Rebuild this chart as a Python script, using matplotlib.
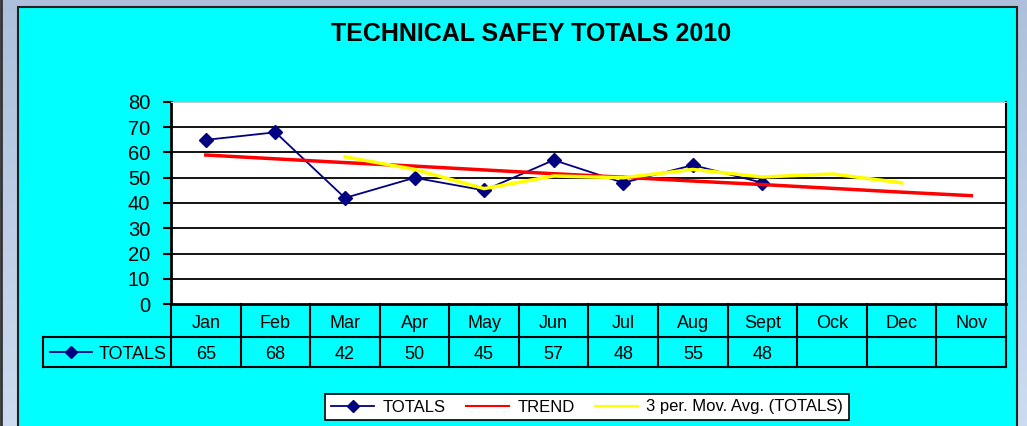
import numpy as np
import matplotlib
matplotlib.use('Agg')
import matplotlib.pyplot as plt
from matplotlib.patches import Rectangle
from matplotlib.lines import Line2D

plt.rcParams['font.family'] = ['Liberation Sans', 'DejaVu Sans']

months = ['Jan', 'Feb', 'Mar', 'Apr', 'May', 'Jun', 'Jul', 'Aug', 'Sept', 'Ock', 'Dec', 'Nov']
totals = [65, 68, 42, 50, 45, 57, 48, 55, 48]
trend = [59.0, 57.5, 56.0, 54.6, 53.1, 51.6, 50.2, 48.7, 47.3, 45.8, 44.3, 42.9]
moving_avg = [58.3, 53.3, 45.7, 50.7, 50.0, 53.3, 50.3, 51.5, 48.0]  # Mar .. Dec
moving_avg_start = 2
y_ticks = [0, 10, 20, 30, 40, 50, 60, 70, 80]

W, H = 1027, 426
fig = plt.figure(figsize=(W / 100, H / 100), dpi=100)

# backdrop: sky picture behind the cyan chart panel
bg = fig.add_axes([0, 0, 1, 1], zorder=-5)
bg.set_xlim(0, W)
bg.set_ylim(H, 0)
bg.axis('off')
rows = np.linspace(0, 1, 64)[:, None]
top = np.array([0.68, 0.75, 0.86])
bot = np.array([0.80, 0.86, 0.94])
sky = top * (1 - rows[..., None]) + bot * rows[..., None]
sky = np.repeat(sky, 4, axis=1)
bg.imshow(sky, extent=(0, W, H, 0), aspect='auto', zorder=0)
bg.add_line(Line2D([1, 1], [0, H], color='#333333', lw=2, zorder=1))
bg.add_patch(Rectangle((18, 7), 999, 430, facecolor='#00FFFF',
                       edgecolor='#222222', lw=1.5, zorder=2))

fig.text(531 / W, 1 - 34 / H, 'TECHNICAL SAFEY TOTALS 2010', ha='center',
         va='center', fontsize=18, fontweight='bold')

# plot area
ax = fig.add_axes([171 / W, 1 - 304 / H, 835 / W, 202 / H])
ax.set_facecolor('white')
ax.set_xlim(0, len(months))
ax.set_ylim(0, 80)
ax.set_yticks(y_ticks)
ax.set_xticks([])
ax.tick_params(axis='y', length=6, width=1.5, pad=9, labelsize=14.5)
for y in y_ticks[1:-1]:
    ax.axhline(y, color='black', lw=1.3, zorder=1)
ax.spines['left'].set_linewidth(2)
ax.spines['bottom'].set_linewidth(2)
ax.spines['right'].set_linewidth(1.5)
ax.spines['top'].set_color('#c8c8c8')

xs = np.arange(len(months)) + 0.5
ax.plot(xs[:len(totals)], totals, color='#000080', lw=1.3, marker='D',
        markersize=7, zorder=3)
ax.plot(xs, trend, color='#FF0000', lw=2.5, zorder=4)
ax.plot(xs[moving_avg_start:moving_avg_start + len(moving_avg)], moving_avg,
        color='#FFFF00', lw=2.5, zorder=4)

# data table under the plot
tr = ax.get_xaxis_transform()
r1 = -33 / 202
r2 = -63 / 202
head_left = -128 / (835 / 12)
n = len(months)
line_kw = dict(color='black', lw=1.5, transform=tr, clip_on=False)
ax.add_line(Line2D([0, 0], [0, r2], **line_kw))
ax.add_line(Line2D([n, n], [0, r2], **line_kw))
ax.add_line(Line2D([head_left, n], [r1, r1], **line_kw))
ax.add_line(Line2D([head_left, n], [r2, r2], **line_kw))
ax.add_line(Line2D([head_left, head_left], [r1, r2], **line_kw))
for i in range(1, n):
    ax.add_line(Line2D([i, i], [0, r2], **line_kw))
for i, m in enumerate(months):
    ax.text(i + 0.5, r1 * 0.58, m, transform=tr, ha='center', va='center',
            fontsize=13)
for i, v in enumerate(totals):
    ax.text(i + 0.5, (r1 + r2) / 2 - 0.01, str(v), transform=tr, ha='center',
            va='center', fontsize=13)
ax.add_line(Line2D([head_left + 0.1, head_left + 0.4, head_left + 0.7],
                   [(r1 + r2) / 2] * 3, color='#000080', lw=1.3, marker='D',
                   markersize=6, markevery=[1], transform=tr, clip_on=False))
ax.text(-0.06, (r1 + r2) / 2 - 0.01, 'TOTALS', transform=tr, ha='right',
        va='center', fontsize=13)

handles = [
    Line2D([], [], color='#000080', lw=1.3, marker='D', markersize=6),
    Line2D([], [], color='#FF0000', lw=1.5),
    Line2D([], [], color='#FFFF00', lw=1.5),
]
labels = ['TOTALS', 'TREND', '3 per. Mov. Avg. (TOTALS)']
leg = fig.legend(handles, labels, loc='center', bbox_to_anchor=(587 / W, 1 - 407 / H),
                 ncol=3, frameon=True, fancybox=False, edgecolor='black',
                 framealpha=1, fontsize=12, handlelength=2.6,
                 columnspacing=1.2, handletextpad=0.5, borderpad=0.35)
leg.get_frame().set_linewidth(1.2)

fig.savefig('out.png', dpi=100)
